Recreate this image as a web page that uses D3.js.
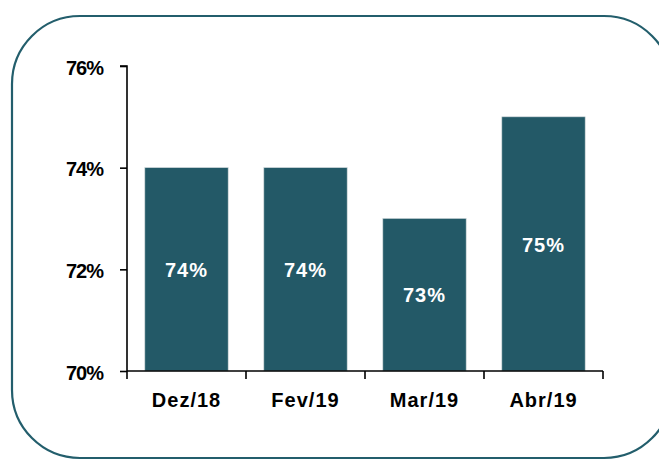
<!DOCTYPE html>
<html>
<head>
<meta charset="utf-8">
<script src="https://cdn.jsdelivr.net/npm/d3@7"></script>
<style>
  html, body { margin: 0; padding: 0; background: #ffffff; }
  svg { display: block; font-family: "Liberation Sans", Arial, sans-serif; }
</style>
</head>
<body>
<svg id="chart" width="659" height="460"></svg>
<script>
// Monthly share, in percent
const categories = ["Dez/18", "Fev/19", "Mar/19", "Abr/19"];
const values = [74, 74, 73, 75];
const yTicks = [70, 72, 74, 76];

const svg = d3.select("#chart");
const W = 659, H = 460;
const teal = "#235967";

// Rounded frame
svg.append("rect")
  .attr("x", 12).attr("y", 16)
  .attr("width", 660).attr("height", 442)
  .attr("rx", 68).attr("ry", 68)
  .attr("fill", "none")
  .attr("stroke", "#235e6c")
  .attr("stroke-width", 2.2);

const margin = { left: 127, right: W - 603, top: 66, bottom: H - 371 };

const x = d3.scaleBand()
  .domain(categories)
  .range([margin.left, W - margin.right])
  .paddingInner(0.3)
  .paddingOuter(0.15);

const y = d3.scaleLinear()
  .domain([70, 76])
  .range([H - margin.bottom, margin.top]);

// Bars
svg.append("g").selectAll("rect")
  .data(values)
  .join("rect")
  .attr("x", (d, i) => x(categories[i]))
  .attr("y", d => y(d))
  .attr("width", x.bandwidth())
  .attr("height", d => y(70) - y(d))
  .attr("fill", teal)
  .attr("stroke", "#c9d3d6")
  .attr("stroke-width", 0.6);

// Value labels inside bars
svg.append("g").selectAll("text")
  .data(values)
  .join("text")
  .attr("x", (d, i) => x(categories[i]) + x.bandwidth() / 2)
  .attr("y", d => (y(d) + y(70)) / 2)
  .attr("dy", "0.38em")
  .attr("text-anchor", "middle")
  .attr("fill", "#ffffff")
  .attr("font-size", 20)
  .attr("font-weight", "bold")
  .attr("letter-spacing", 1)
  .text(d => d + "%");

// Y axis
const yAxis = svg.append("g")
  .attr("transform", `translate(${margin.left},0)`)
  .call(d3.axisLeft(y).tickValues(yTicks).tickSize(7).tickPadding(17)
    .tickFormat(d => d + "%"));
yAxis.select(".domain").attr("stroke", "#000").attr("stroke-width", 1.6)
  .attr("d", `M-7,${y(76)}H0V${y(70)}`);
yAxis.selectAll(".tick line").attr("stroke", "#000").attr("stroke-width", 1.6);
yAxis.selectAll(".tick text")
  .attr("fill", "#000")
  .attr("font-size", 20)
  .attr("font-weight", "bold")
  .attr("letter-spacing", -1)
  .attr("font-family", "'Liberation Sans', Arial, sans-serif")
  .attr("dy", "0.4em");

// X axis with ticks at category boundaries
const xAxisG = svg.append("g")
  .attr("transform", `translate(0,${y(70)})`);
xAxisG.append("line")
  .attr("x1", margin.left).attr("x2", W - margin.right)
  .attr("y1", 0).attr("y2", 0)
  .attr("stroke", "#000").attr("stroke-width", 1.6);
const gap = x.step() - x.bandwidth();
const edges = [margin.left]
  .concat(categories.slice(1).map(c => x(c) - gap / 2), [W - margin.right]);
xAxisG.selectAll("line.tick")
  .data(edges)
  .join("line")
  .attr("class", "tick")
  .attr("x1", d => d).attr("x2", d => d)
  .attr("y1", 0).attr("y2", 8)
  .attr("stroke", "#000").attr("stroke-width", 1.6);
xAxisG.selectAll("text")
  .data(categories)
  .join("text")
  .attr("x", d => x(d) + x.bandwidth() / 2)
  .attr("y", 36)
  .attr("text-anchor", "middle")
  .attr("fill", "#000")
  .attr("font-size", 20)
  .attr("font-weight", "bold")
  .attr("letter-spacing", 1)
  .text(d => d);
</script>
</body>
</html>
